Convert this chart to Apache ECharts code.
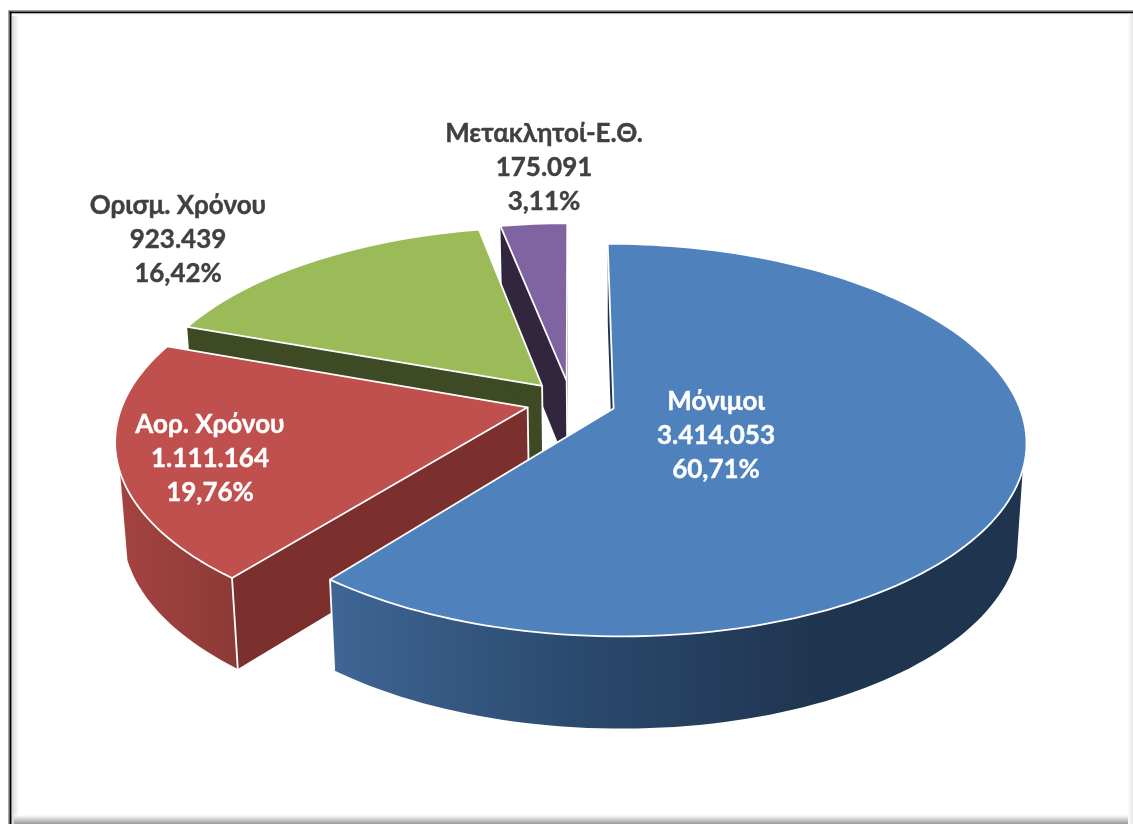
<!DOCTYPE html>
<html><head><meta charset="utf-8">
<style>html,body{margin:0;padding:0;background:#fff}#c{width:1133px;height:824px}</style>
<script src="https://cdn.jsdelivr.net/npm/echarts@6/dist/echarts.min.js"></script>
</head><body><div id="c"></div>
<script>
const categories = ['Μόνιμοι','Αορ. Χρόνου','Ορισμ. Χρόνου','Μετακλητοί-Ε.Θ.'];
const values = [3414053,1111164,923439,175091];
const topColors = ['#4f81bd','#c0504d','#9bbb59','#8064a2'];
const wallStops = [
  [[0,'#3f6695'],[0.5,'#2b496d'],[1,'#1f344e']],
  [[0,'#a44340'],[1,'#8c3a37']],
  [[0,'#3e4a23'],[1,'#3e4a23']],
  [[0,'#32263f'],[1,'#32263f']]
];
const cutColors = ['#1f344e','#7b302e','#3e4a23','#32263f'];
const labelColors = ['#ffffff','#ffffff','#404040','#404040'];
const labelCenters = [[716,436],[210,459],[178,240],[544,168]];

// perspective pie model
const PIE = {x0:571,y0:401.5,A:189,B:404,k:0.16,explode:0.111,start:0,vx:615,sx:0.985,wallFrom:-0.3};
const total = values.reduce((a,b)=>a+b,0);
const rad = d=>d*Math.PI/180;
function projTop(u,v){const w=1+PIE.k*v;return [PIE.x0+PIE.B*u/w,PIE.y0-PIE.A*v/w];}
function projBot(u,v){const p=projTop(u,v);return [PIE.vx+(p[0]-PIE.vx)*PIE.sx,p[1]+86-6*v];}
function fmtInt(n){return String(n).replace(/\B(?=(\d{3})+$)/g,'.');}
function fmtPct(n){return (n/total*100).toFixed(2).replace('.',',')+'%';}

let acc = PIE.start;
const slices = values.map(val=>{const a0=acc,a1=acc+val/total*360;acc=a1;return {a0,a1};});

function renderItem(params){
  const i=params.dataIndex,{a0,a1}=slices[i],b=rad((a0+a1)/2);
  const cu=PIE.explode*Math.sin(b),cv=PIE.explode*Math.cos(b);
  const arc=[],front=[];const n=Math.max(6,Math.ceil((a1-a0)/1.5));
  for(let j=0;j<=n;j++){
    const a=rad(a0+(a1-a0)*j/n),q=[cu+Math.sin(a),cv+Math.cos(a)];
    arc.push(q);
    if(Math.cos(a)<PIE.wallFrom) front.push(q);
  }
  const T=arc.map(q=>projTop(q[0],q[1])),Bt=arc.map(q=>projBot(q[0],q[1]));
  const fT=front.map(q=>projTop(q[0],q[1])),fB=front.map(q=>projBot(q[0],q[1]));
  const aT=projTop(cu,cv),aB=projBot(cu,cv);
  const base=(values.length-i)*10;
  const xs=fT.concat(fB).map(p=>p[0]);
  const poly=(pts,fill,z,extra)=>({type:'polygon',z2:base+z,silent:true,shape:{points:pts},style:Object.assign({fill:fill},extra||{})});
  const line=(p,q,z)=>({type:'line',z2:base+z,silent:true,shape:{x1:p[0],y1:p[1],x2:q[0],y2:q[1]},style:{stroke:'#ffffff',lineWidth:1.8}});
  const children=[
    poly([aT,T[0],Bt[0],aB],cutColors[i],0),
    poly([aT,T[n],Bt[n],aB],cutColors[i],0)
  ];
  if(front.length>1){
    const grad=new echarts.graphic.LinearGradient(i===0?330:Math.min(...xs),0,i===0?830:Math.max(...xs),0,
      wallStops[i].map(s=>({offset:s[0],color:s[1]})),true);
    children.push(poly(fT.concat(fB.slice().reverse()),grad,1));
  }
  // white corner edges only where the corner faces the viewer
  if(Math.cos(rad(a0))<0) children.push(line(T[0],Bt[0],2));
  if(Math.cos(rad(a1))<0) children.push(line(T[n],Bt[n],2));
  children.push(
    line(aT,aB,2),
    poly([aT].concat(T),topColors[i],3,{stroke:'#ffffff',lineWidth:1.8,lineJoin:'round'}),
    {type:'text',z2:1000,silent:true,style:{
      x:labelCenters[i][0],y:labelCenters[i][1],
      text:categories[i]+'\n'+fmtInt(values[i])+'\n'+fmtPct(values[i]),
      fill:labelColors[i],stroke:labelColors[i],lineWidth:0.4,align:'center',verticalAlign:'middle',
      font:'bold 26px Lato, "Open Sans", "Noto Sans", sans-serif',lineHeight:34}}
  );
  return {type:'group',children};
}

const chart=echarts.init(document.getElementById('c'),null,{renderer:'canvas'});
const vg=(x0,y0,x1,y1,c0,c1)=>new echarts.graphic.LinearGradient(x0,y0,x1,y1,[{offset:0,color:c0},{offset:1,color:c1}],false);
chart.setOption({
  animation:false,
  backgroundColor:'#ffffff',
  graphic:[
    {type:'rect',z:-5,silent:true,shape:{x:12,y:13,width:7,height:811},style:{fill:vg(0,0,1,0,'#d8d8d8','#ffffff')}},
    {type:'rect',z:-5,silent:true,shape:{x:12,y:13,width:1121,height:3},style:{fill:vg(0,0,0,1,'#eeeeee','#ffffff')}},
    {type:'rect',z:-5,silent:true,shape:{x:14,y:815,width:1119,height:9},style:{fill:vg(0,0,0,1,'#ffffff','#9a9a9a')}},
    {type:'rect',z:-5,silent:true,shape:{x:1128,y:13,width:5,height:811},style:{fill:vg(0,0,1,0,'#ffffff','#e6e6e6')}},
    {type:'rect',z:-4,silent:true,shape:{x:8,y:10,width:1125,height:1.5},style:{fill:'#a6a6a6'}},
    {type:'rect',z:-4,silent:true,shape:{x:8,y:10,width:1.5,height:814},style:{fill:'#a6a6a6'}},
    {type:'rect',z:-4,silent:true,shape:{x:9.5,y:11.5,width:1123.5,height:1.8},style:{fill:'#000000'}},
    {type:'rect',z:-4,silent:true,shape:{x:9.5,y:11.5,width:2,height:812.5},style:{fill:'#000000'}}
  ],
  series:[{type:'custom',coordinateSystem:'none',renderItem,data:values,clip:false,silent:true}]
});
</script></body></html>
